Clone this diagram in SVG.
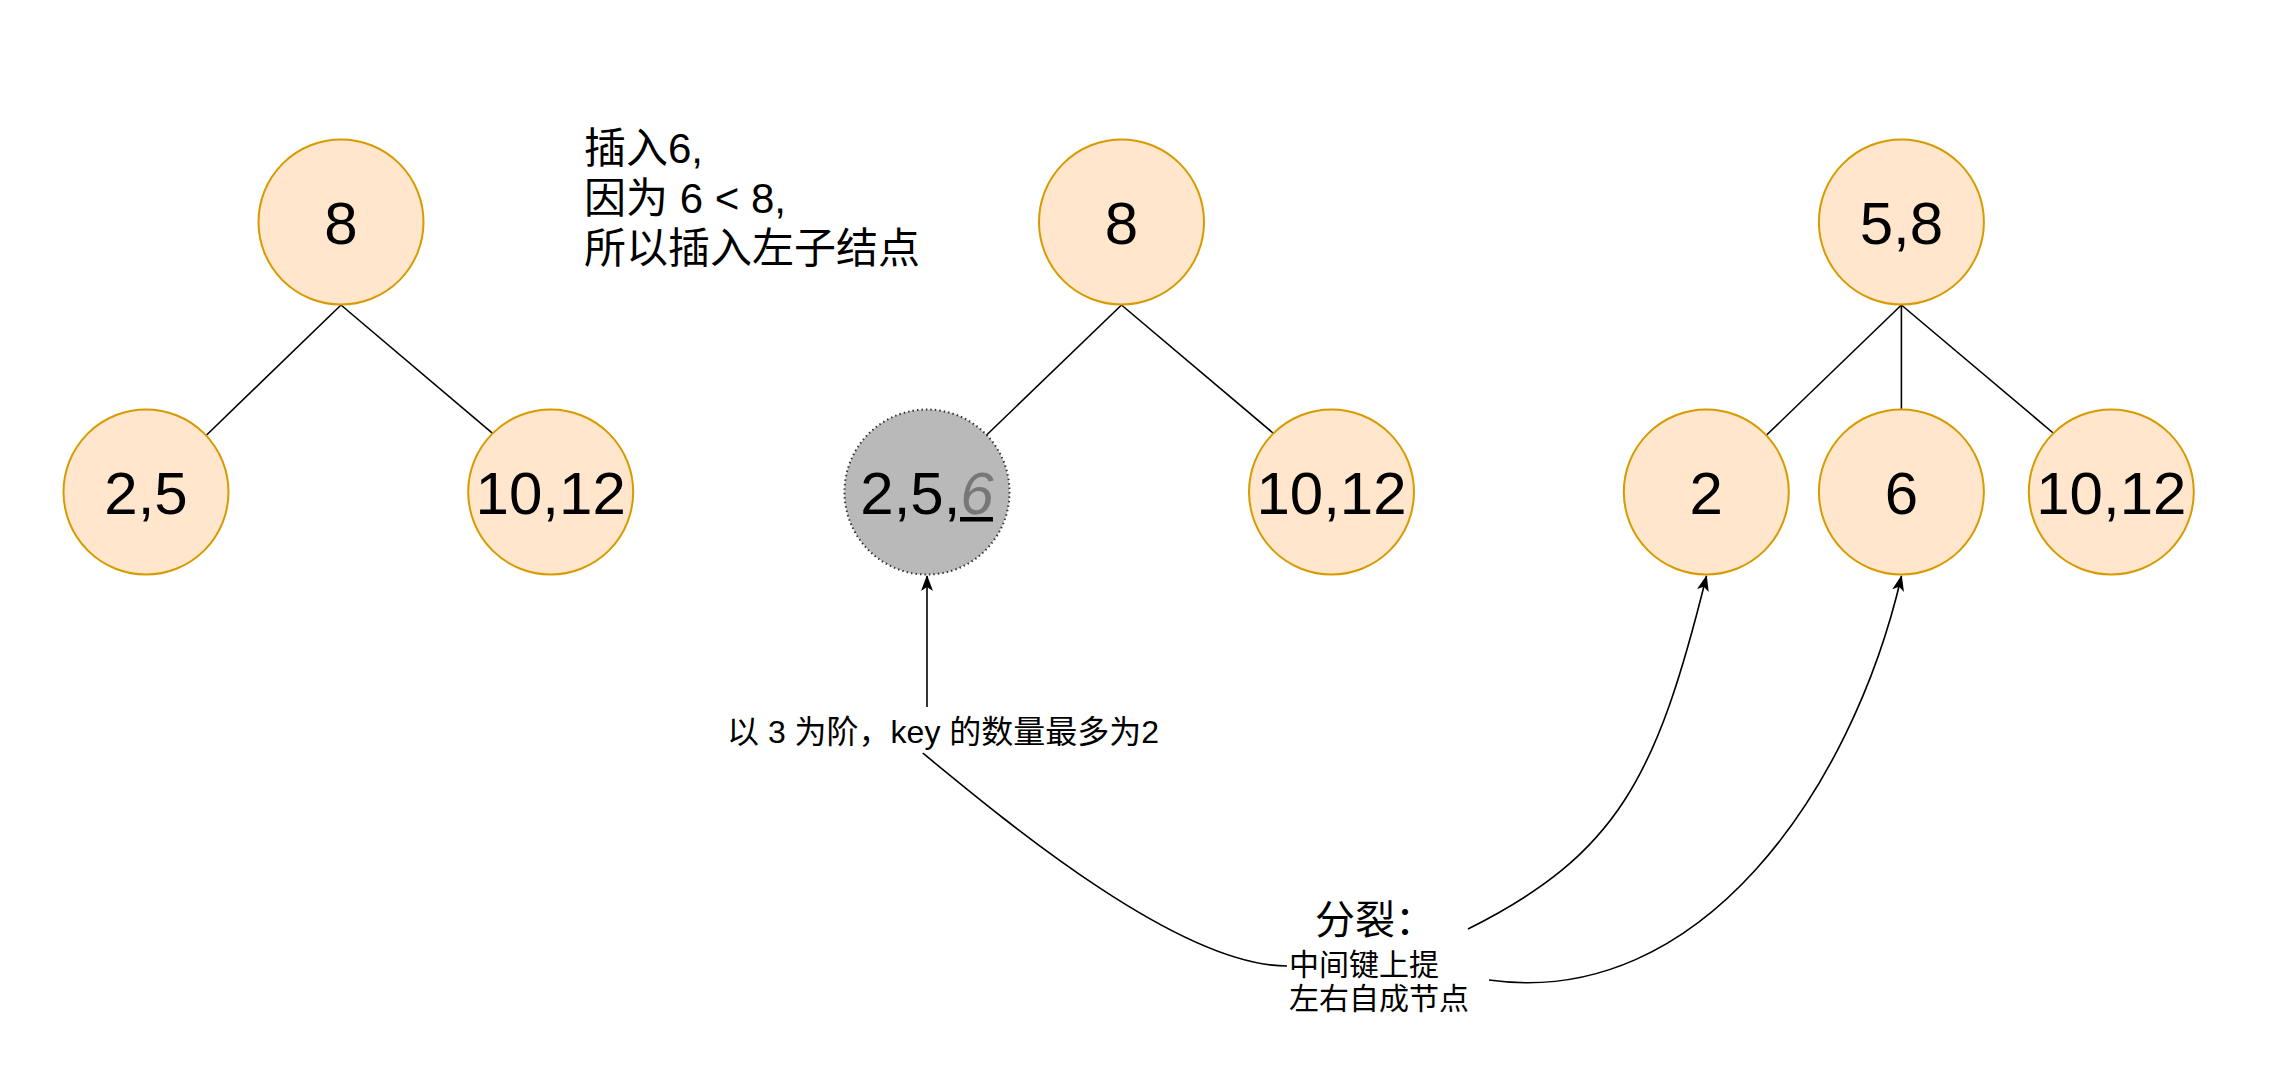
<svg xmlns="http://www.w3.org/2000/svg" width="2292" height="1068" viewBox="0 0 2292 1068">
<style>
.nd{fill:#ffe6cc;stroke:#d79b00;stroke-width:2}
.gr{fill:#b9b9b9;stroke:#333;stroke-width:2;stroke-dasharray:1.5 3}
.nl{font-family:"Liberation Sans","Noto Sans CJK SC",sans-serif;font-size:60px;fill:#000;text-anchor:middle}
.tx{font-family:"Liberation Sans","Noto Sans CJK SC",sans-serif;fill:#000}
.ln{fill:none;stroke:#000;stroke-width:1.6}
</style>
<defs>
<marker id="arr" markerUnits="userSpaceOnUse" markerWidth="16" markerHeight="12" viewBox="0 0 16 12" refX="15" refY="6" orient="auto">
<path d="M0,0 L16,6 L0,12 L4,6 Z" fill="#000"/>
</marker>
</defs>
<g id="connectors">
<path class="ln" d="M341,305 L206.6,435"/>
<path class="ln" d="M341,305 L492.6,433.3"/>
<path class="ln" d="M1121.5,305 L986.6,435"/>
<path class="ln" d="M1121.5,305 L1273,433"/>
<path class="ln" d="M1901.4,305 L1766.6,435"/>
<path class="ln" d="M1901.4,305 L1901.4,410"/>
<path class="ln" d="M1901.4,305 L2053.2,433"/>
<path class="ln" d="M927,707 L927,576" marker-end="url(#arr)"/>
<path class="ln" d="M922.7,753 C1010,825 1180,966 1287,966"/>
<path class="ln" d="M1468,929 C1618,854 1656.7,777 1706.5,576" marker-end="url(#arr)"/>
<path class="ln" d="M1489,980 C1700,1010 1852,790 1901.5,576" marker-end="url(#arr)"/>
</g>
<g id="t1-root"><circle class="nd" cx="341" cy="222" r="82.5"/><text class="nl" x="341" y="243.5">8</text></g>
<g id="t1-left"><circle class="nd" cx="146" cy="492" r="82.5"/><text class="nl" x="146" y="513.5">2,5</text></g>
<g id="t1-right"><circle class="nd" cx="550.7" cy="492" r="82.5"/><text class="nl" x="550.7" y="513.5">10,12</text></g>
<g id="t2-root"><circle class="nd" cx="1121.5" cy="222" r="82.5"/><text class="nl" x="1121.5" y="243.5">8</text></g>
<g id="t2-left"><circle class="gr" cx="927" cy="492" r="82.5"/><text class="nl" x="927" y="513.5">2,5,<tspan font-style="italic" fill="#777">6</tspan></text><rect x="960" y="517" width="33" height="4.5" fill="#000"/></g>
<g id="t2-right"><circle class="nd" cx="1331.5" cy="492" r="82.5"/><text class="nl" x="1331.5" y="513.5">10,12</text></g>
<g id="t3-root"><circle class="nd" cx="1901.4" cy="222" r="82.5"/><text class="nl" x="1901.4" y="243.5">5,8</text></g>
<g id="t3-a"><circle class="nd" cx="1706.3" cy="492" r="82.5"/><text class="nl" x="1706.3" y="513.5">2</text></g>
<g id="t3-b"><circle class="nd" cx="1901.4" cy="492" r="82.5"/><text class="nl" x="1901.4" y="513.5">6</text></g>
<g id="t3-c"><circle class="nd" cx="2111.3" cy="492" r="82.5"/><text class="nl" x="2111.3" y="513.5">10,12</text></g>
<g id="note-insert">
<text class="tx" font-size="42" x="584" y="163">插入6,</text>
<text class="tx" font-size="42" x="584" y="213">因为 6 &lt; 8,</text>
<text class="tx" font-size="42" x="584" y="263">所以插入左子结点</text>
</g>
<g id="note-order"><text class="tx" font-size="32" x="727" y="743">以 3 为阶，key 的数量最多为2</text></g>
<g id="note-split">
<text class="tx" font-size="40" x="1315" y="934">分裂：</text>
<text class="tx" font-size="30" x="1289" y="975">中间键上提</text>
<text class="tx" font-size="30" x="1289" y="1009">左右自成节点</text>
</g>
</svg>
